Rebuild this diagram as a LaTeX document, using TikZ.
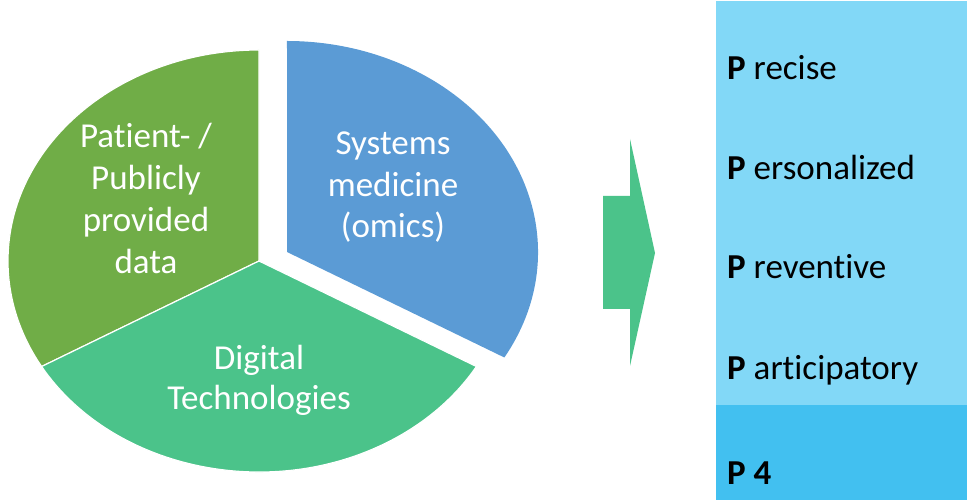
\documentclass[tikz,border=0pt]{standalone}
\usepackage{fontspec}
\setmainfont{Carlito}[Ligatures={NoCommon}]
\definecolor{pgreen}{RGB}{112,173,71}
\definecolor{pblue}{RGB}{91,155,213}
\definecolor{pteal}{RGB}{75,195,138}
\definecolor{plight}{RGB}{130,216,247}
\definecolor{pdark}{RGB}{66,192,240}
\begin{document}
\begin{tikzpicture}[x=1pt,y=1pt,
  pietext/.style={text=white,align=center,inner sep=0pt,anchor=base,font=\fontsize{35}{42}\selectfont},
  ptext/.style={text=black,inner sep=0pt,anchor=base west,font=\fontsize{35}{42}\selectfont},
  seg/.style={draw=white,line width=1.2pt,line join=round}]
\useasboundingbox (0,0) rectangle (967,500);
\coordinate (c) at (259,239);
\coordinate (cb) at (287,248);
% green segment
\path[seg,fill=pgreen] (c) -- (259,450) arc[start angle=90,end angle=210,x radius=251pt,y radius=211pt] -- cycle;
% teal segment
\path[seg,fill=pteal] (c) -- (41.63,133.5) arc[start angle=210,end angle=330,x radius=251pt,y radius=211pt] -- cycle;
% blue exploded segment
\path[fill=pblue] (cb) -- (504.37,142.5) arc[start angle=-30,end angle=90,x radius=251pt,y radius=211pt] -- cycle;
\node[pietext] (pat) at (146,226) {Patient- /\\Publicly\\provided\\data};
\node[pietext,font=\fontsize{35}{41.5}\selectfont] (sys) at (393,262) {Systems\\medicine\\(omics)};
\node[pietext,font=\fontsize{35}{40}\selectfont] (dig) at (259,90) {Digital\\Technologies};
% arrow
\fill[pteal] (603,304) -- (630,304) -- (630,361) -- (655,247) -- (630,134) -- (630,191) -- (603,191) -- cycle;
% right panel
\fill[plight] (716,95) rectangle (967,499);
\fill[pdark] (716,0) rectangle (967,95);
\node[ptext] (p1) at (727,420) {\textbf{P} recise};
\node[ptext] (p2) at (727,320) {\textbf{P} ersonalized};
\node[ptext] (p3) at (727,221) {\textbf{P} reventive};
\node[ptext] (p4) at (727,120) {\textbf{P} articipatory};
\node[ptext] (p5) at (727,15) {\textbf{P 4}};
\end{tikzpicture}
\end{document}
